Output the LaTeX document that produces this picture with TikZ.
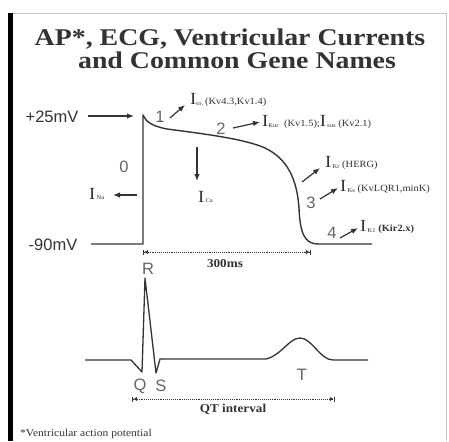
\documentclass[tikz,border=0pt]{standalone}
\usepackage{fontspec}
\setmainfont{Liberation Serif}
\newfontfamily\arialf{Liberation Sans}
\usetikzlibrary{arrows.meta}
\definecolor{ink}{HTML}{333333}
\definecolor{lbl}{HTML}{666666}
\newcommand{\hstretch}[1]{\scalebox{1.1}[1]{#1}}
\newcommand{\bigI}{{\fontsize{17}{17}\selectfont I}}
\newcommand{\subtx}[1]{\raisebox{-0.5pt}{\fontsize{6}{6}\selectfont #1}}
\newcommand{\gene}[1]{{\fontsize{9.5}{10}\selectfont #1}}
\begin{document}
\begin{tikzpicture}[x=1pt,y=-1pt,
  sanslab/.style={font=\arialf\fontsize{16.5}{16.5}\selectfont, text=lbl, inner sep=0pt},
  mvlab/.style={font=\arialf\fontsize{16.5}{16.5}\selectfont, text=ink, inner sep=0pt},
  curlab/.style={anchor=west, inner sep=0pt, text=ink},
  arr/.style={line width=1.2pt, draw=ink, -{Latex[length=7pt,width=5.5pt]}},
  trace/.style={line width=1.4pt, draw=ink, line join=round},
  dimline/.style={line width=0.9pt, draw=ink, densely dotted,
     {Bar[width=5pt,line width=1.2pt]Latex[length=4pt,width=4.5pt]}-{Latex[length=4pt,width=4.5pt]Bar[width=5pt,line width=1.2pt]}},
  boldlab/.style={font=\bfseries\fontsize{12}{12}\selectfont, text=ink, inner sep=0pt},
  titlelab/.style={anchor=base, inner sep=0pt, text=ink, font=\bfseries\fontsize{24}{24}\selectfont}
]
\useasboundingbox (0,0) rectangle (449,441);
\fill[white] (0,0) rectangle (449,441);
% frame
\fill[black] (8,13) rectangle (13,441);
\draw[gray!45, line width=1pt] (13,13.5) -- (446.5,13.5) -- (446.5,441);

% title
\node[titlelab] (title1) at (230,46) {\scalebox{1.16}[1]{AP*, ECG, Ventricular Currents}};
\node[titlelab] (title2) at (237,68.5) {\scalebox{1.16}[1]{and Common Gene Names}};

% action potential
\draw[trace] (91,244) -- (143,244) -- (143,115)
  .. controls (146,122) and (152,126) .. (167,129)
  .. controls (205,134) and (245,139) .. (265,148)
  .. controls (288,159) and (297,180) .. (299,208)
  .. controls (300,232) and (304,244) .. (318,244) -- (372,244);

% voltage labels
\node[mvlab] (p25) at (52,117) {+25mV};
\node[mvlab] (m90) at (53,245) {-90mV};
\coordinate (p25e) at (134,116);
\draw[arr] (p25.east) ++(9,-1) coordinate (p25s) (p25s) -- (p25e);

% phase numbers
\node[sanslab] (ph0) at (124,167) {0};
\node[sanslab] (ph1) at (160,117) {1};
\node[sanslab] (ph2) at (221,129) {2};
\node[sanslab] (ph3) at (311,203) {3};
\node[sanslab] (ph4) at (332,233) {4};

% currents
\node[curlab] (Ito) at (190,100) {\hstretch{\bigI\subtx{to,}\,\gene{(Kv4.3,Kv1.4)}}};
\node[curlab] (Ikur) at (262,122) {\hstretch{\bigI\subtx{Kur}\ \ \gene{(Kv1.5);}\bigI\subtx{\,sus}\ \gene{(Kv2.1)}}};
\node[curlab] (Ikr) at (325,163) {\hstretch{\bigI\subtx{\,Kr}\ \gene{(HERG)}}};
\node[curlab] (Iks) at (340,187) {\hstretch{\bigI\subtx{\,Ks}\ \gene{(KvLQR1,minK)}}};
\node[curlab] (Ik1) at (360,227) {\hstretch{\bigI\subtx{\,K1}\ \gene{\textbf{(Kir2.x)}}}};
\node[curlab] (Ica) at (198,197) {\hstretch{\bigI\subtx{\,Ca}}};
\node[curlab] (Ina) at (89,194) {\hstretch{\bigI\subtx{\,Na}}};

\coordinate (a1s) at (170,118);  \coordinate (a1e) at (185,105);
\coordinate (a2s) at (233,128);  \coordinate (a2e) at (260,122);
\coordinate (acas) at (197,147); \coordinate (acae) at (197,181);
\coordinate (anas) at (137,195); \coordinate (anae) at (113,195);
\coordinate (akrs) at (302,182); \coordinate (akre) at (320,168);
\coordinate (akss) at (320,199); \coordinate (akse) at (338,188);
\coordinate (ak1s) at (340,238); \coordinate (ak1e) at (358,228);
\draw[arr] (a1s) -- (a1e);
\draw[arr] (a2s) -- (a2e);
\draw[arr] (acas) -- (acae);
\draw[arr] (anas) -- (anae);
\draw[arr] (akrs) -- (akre);
\draw[arr] (akss) -- (akse);
\draw[arr] (ak1s) -- (ak1e);

% 300 ms
\coordinate (d1s) at (143,252); \coordinate (d1e) at (311,252);
\draw[dimline] (d1s) -- (d1e);
\node[boldlab] (ms) at (225,264) {\hstretch{300ms}};

% ECG
\draw[trace, line width=1.3pt] (85,360) -- (131,360) -- (142,372) -- (145,278) -- (156,373) -- (160,359) -- (266,359)
  .. controls (282,355) and (289,338) .. (300,338)
  .. controls (312,338) and (320,360) .. (333,360) -- (368,360);
\node[sanslab] (R) at (148,269) {R};
\node[sanslab] (Q) at (140,386) {Q};
\node[sanslab] (S) at (161,386) {S};
\node[sanslab] (T) at (302,375) {T};

% QT interval
\coordinate (d2s) at (132,399); \coordinate (d2e) at (335,399);
\draw[dimline] (d2s) -- (d2e);
\node[boldlab] (qt) at (233,409) {\hstretch{QT interval}};

% footnote
\node[anchor=base west, inner sep=0pt, text=ink, font=\fontsize{10.5}{10.5}\selectfont] (foot) at (20,436) {\hstretch{*Ventricular action potential}};
\end{tikzpicture}
\end{document}
